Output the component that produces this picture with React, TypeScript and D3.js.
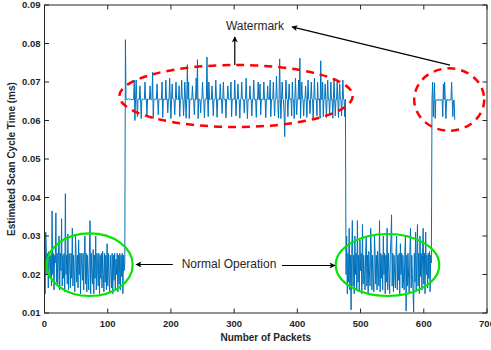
import React from 'react';
import * as d3 from 'd3';

// values in units of 0.0001 ms
const normal1 = [
  255, 150, 310, 255, 200, 255, 165, 260, 240, 190,
  250, 170, 365, 200, 255, 160, 250, 230, 360, 180,
  255, 175, 250, 300, 160, 255, 210, 345, 170, 250,
  190, 255, 155, 410, 200, 250, 175, 305, 160, 255,
  230, 165, 255, 190, 320, 170, 250, 210, 155, 300,
  255, 180, 250, 165, 290, 200, 255, 150, 255, 230,
  185, 255, 160, 250, 300, 175, 255, 155, 250, 200,
  160, 255, 340, 150, 255, 200, 175, 265, 150, 250,
  190, 300, 160, 255, 220, 170, 255, 150, 250, 190,
  255, 165, 260, 200, 155, 255, 180, 250, 160, 280,
  170, 255, 195, 155, 250, 210, 165, 255, 150, 250,
  185, 255, 160, 240, 200, 255, 155, 250, 175, 255,
  160, 250, 195, 255, 150, 250, 210, 230,
];

const watermark1 = [
  810,
  655, 656, 654, 655, 657, 655, 654, 656, 655, 655, 653, 656, 655, 705, 600, 655, 705, 655, 610, 655,
  656, 654, 690, 655, 605, 655, 656, 655, 654, 655, 700, 655, 656, 612, 655, 654, 656, 655, 690, 655,
  654, 656, 725, 605, 655, 655, 656, 654, 655, 695, 655, 615, 655, 656, 655, 654, 655, 700, 608, 655,
  656, 655, 654, 705, 655, 656, 620, 655, 654, 710, 655, 605, 655, 695, 656, 655, 654, 615, 655, 700,
  655, 656, 654, 655, 690, 610, 655, 656, 705, 655, 655, 612, 655, 700, 656, 606, 655, 745, 655, 700,
  605, 655, 656, 654, 655, 690, 655, 656, 615, 655, 654, 710, 655, 758, 605, 656, 655, 654, 620, 655,
  656, 700, 655, 654, 607, 655, 656, 655, 765, 655, 610, 700, 655, 654, 656, 655, 690, 655, 612, 655,
  654, 656, 705, 655, 608, 655, 656, 655, 654, 695, 655, 656, 618, 655, 700, 655, 654, 656, 607, 655,
  655, 690, 656, 655, 654, 655, 700, 610, 655, 656, 655, 654, 705, 655, 612, 655, 656, 695, 655, 654,
  606, 655, 656, 700, 655, 654, 655, 620, 655, 656, 710, 655, 605, 655, 654, 656, 690, 655, 655, 612,
  655, 656, 705, 654, 655, 655, 608, 656, 655, 700, 655, 654, 695, 615, 655, 656, 655, 654, 700, 655,
  656, 607, 655, 654, 690, 655, 656, 655, 705, 610, 655, 654, 656, 700, 655, 612, 655, 656, 715, 655,
  654, 606, 655, 760, 655, 605, 656, 700, 655, 654, 620, 558, 655, 705, 656, 655, 610, 655, 695, 654,
  655, 656, 612, 700, 655, 654, 605, 656, 710, 655, 615, 655, 654, 705, 655, 762, 606, 655, 700, 656,
  655, 612, 654, 655, 690, 655, 608, 656, 705, 655, 654, 618, 655, 700, 656, 655, 605, 654, 710, 655,
  656, 655, 612, 700, 654, 655, 656, 606, 755, 655, 654, 700, 610, 655, 656, 695, 655, 608, 654, 705,
  655, 656, 615, 655, 700, 654, 655, 606, 656, 710, 655, 612, 655, 654, 700, 656, 608, 655, 695, 655,
  654, 612, 656, 705, 655, 654, 610, 655,
];

const normal2 = [
  200, 300, 150, 255, 180, 320, 160, 250, 108, 255, 340, 170, 250, 150, 300, 200, 255, 160, 340, 180,
  250, 155, 290, 210, 255, 150, 330, 175, 250, 200, 160, 255, 300, 170, 250, 150, 260, 210, 170, 320,
  255, 160, 250, 195, 155, 300, 255, 175, 250, 160, 260, 220, 170, 340, 155, 255, 190, 250, 160, 300,
  200, 255, 150, 250, 180, 320, 160, 255, 205, 150, 250, 290, 355, 170, 255, 155, 250, 200, 165, 255,
  300, 160, 250, 185, 255, 150, 280, 200, 255, 165, 250, 180, 160, 255, 300, 105, 250, 170, 255, 190,
  150, 260, 320, 165, 250, 200, 155, 103, 255, 180, 310, 160, 250, 330, 170, 255, 150, 300, 195, 255,
  160, 250, 320, 175, 255, 150, 310, 200, 250, 165, 255, 190, 260, 155, 250, 230,
];

const watermark2 = [
  655, 700, 610, 652, 698, 605, 653, 654, 652, 653, 655, 652, 654, 653, 652, 655, 653, 610, 695, 654,
  700, 652, 605, 653, 655, 652, 654, 653, 652, 655, 653, 700, 654, 610, 652, 653, 602,
];

const xTicks = [0, 100, 200, 300, 400, 500, 600, 700];
const yTicks = [0.01, 0.02, 0.03, 0.04, 0.05, 0.06, 0.07, 0.08, 0.09];

const FONT = '"Liberation Sans", Arial, Helvetica, sans-serif';
const TXT = '#262626';

export default function App() {
  const W = 491, H = 350;
  const x = d3.scaleLinear().domain([0, 700]).range([44.5, 487]);
  const y = d3.scaleLinear().domain([0.01, 0.09]).range([313, 5]);
  const values = [...normal1, ...watermark1, ...normal2, ...watermark2].map(v => v / 10000);
  const line = d3.line<number>().x((_, i) => x(i)).y(d => y(d));
  const [x0, x1] = x.range();
  const [yb, yt] = y.range();

  // annotations in data coordinates
  const redEllipses = [
    { cx: 303, cy: 0.06636, rx: 184.6, ry: 0.00805 },
    { cx: 640.2, cy: 0.06545, rx: 55.4, ry: 0.0081 },
  ];
  const greenEllipses = [
    { cx: 71.5, cy: 0.02255, rx: 68, ry: 0.00813 },
    { cx: 542.6, cy: 0.02247, rx: 81.9, ry: 0.00805 },
  ];
  const arrows = [
    { from: [301, 0.0744], to: [301, 0.0817] },
    { from: [641.5, 0.0744], to: [391.5, 0.0843] },
    { from: [203, 0.0226], to: [144.8, 0.0226] },
    { from: [375.7, 0.02234], to: [459.5, 0.02234] },
  ];
  const sx = (v: number) => x(v) - x(0);
  const sy = (v: number) => y(0.01) - y(0.01 + v);

  return (
    <svg width={W} height={H} style={{ position: 'absolute', left: 0, top: 0, background: '#fff' }} fontFamily={FONT}>
      <defs>
        <marker id="ah" viewBox="0 0 10 10" refX="9" refY="5" markerWidth="7" markerHeight="6" orient="auto" markerUnits="userSpaceOnUse">
          <path d="M0,0 L10,5 L0,10 L2.5,5 z" fill="#000" />
        </marker>
      </defs>
      <rect x={0} y={0} width={W} height={H} fill="#fff" />
      {/* data line */}
      <path d={line(values) || ''} fill="none" stroke="#0072BD" strokeWidth={1} strokeLinejoin="round" />
      {/* frame */}
      <rect x={x0} y={yt} width={x1 - x0} height={yb - yt} fill="none" stroke={TXT} strokeWidth={1} />
      {xTicks.map(t => (
        <g key={'x' + t}>
          <line x1={x(t)} x2={x(t)} y1={yb} y2={yb - 4.5} stroke={TXT} />
          <line x1={x(t)} x2={x(t)} y1={yt} y2={yt + 4.5} stroke={TXT} />
          <text x={x(t)} y={yb + 14} textAnchor="middle" fontSize={9.5} fontWeight="bold" fill={TXT}>{t}</text>
        </g>
      ))}
      {yTicks.map(t => (
        <g key={'y' + t}>
          <line x1={x0} x2={x0 + 4.5} y1={y(t)} y2={y(t)} stroke={TXT} />
          <line x1={x1} x2={x1 - 4.5} y1={y(t)} y2={y(t)} stroke={TXT} />
          <text x={x0 - 4} y={y(t)} dy="0.35em" textAnchor="end" fontSize={9.5} fontWeight="bold" fill={TXT}>{d3.format('.2f')(t)}</text>
        </g>
      ))}
      <text x={(x0 + x1) / 2} y={341} textAnchor="middle" fontSize={10} fontWeight="bold" fill={TXT}>Number of Packets</text>
      <text transform={`translate(15,${(yb + yt) / 2}) rotate(-90)`} textAnchor="middle" fontSize={10} fontWeight="bold" fill={TXT}>Estimated Scan Cycle Time (ms)</text>
      {/* annotations */}
      {redEllipses.map((e, i) => (
        <ellipse key={'r' + i} cx={x(e.cx)} cy={y(e.cy)} rx={sx(e.rx)} ry={sy(e.ry)} fill="none" stroke="#FF0000" strokeWidth={2.5} strokeDasharray="8,6" />
      ))}
      {greenEllipses.map((e, i) => (
        <ellipse key={'g' + i} cx={x(e.cx)} cy={y(e.cy)} rx={sx(e.rx)} ry={sy(e.ry)} fill="none" stroke="#00E600" strokeWidth={2.2} />
      ))}
      {arrows.map((a, i) => (
        <line key={'a' + i} x1={x(a.from[0])} y1={y(a.from[1])} x2={x(a.to[0])} y2={y(a.to[1])} stroke="#000" strokeWidth={1.2} markerEnd="url(#ah)" />
      ))}
      <text x={x(333)} y={y(0.0845)} dy="0.35em" textAnchor="middle" fontSize={12} fill={TXT}>Watermark</text>
      <text x={x(291.9)} y={y(0.0229)} dy="0.35em" textAnchor="middle" fontSize={12} fill={TXT}>Normal Operation</text>
    </svg>
  );
}
